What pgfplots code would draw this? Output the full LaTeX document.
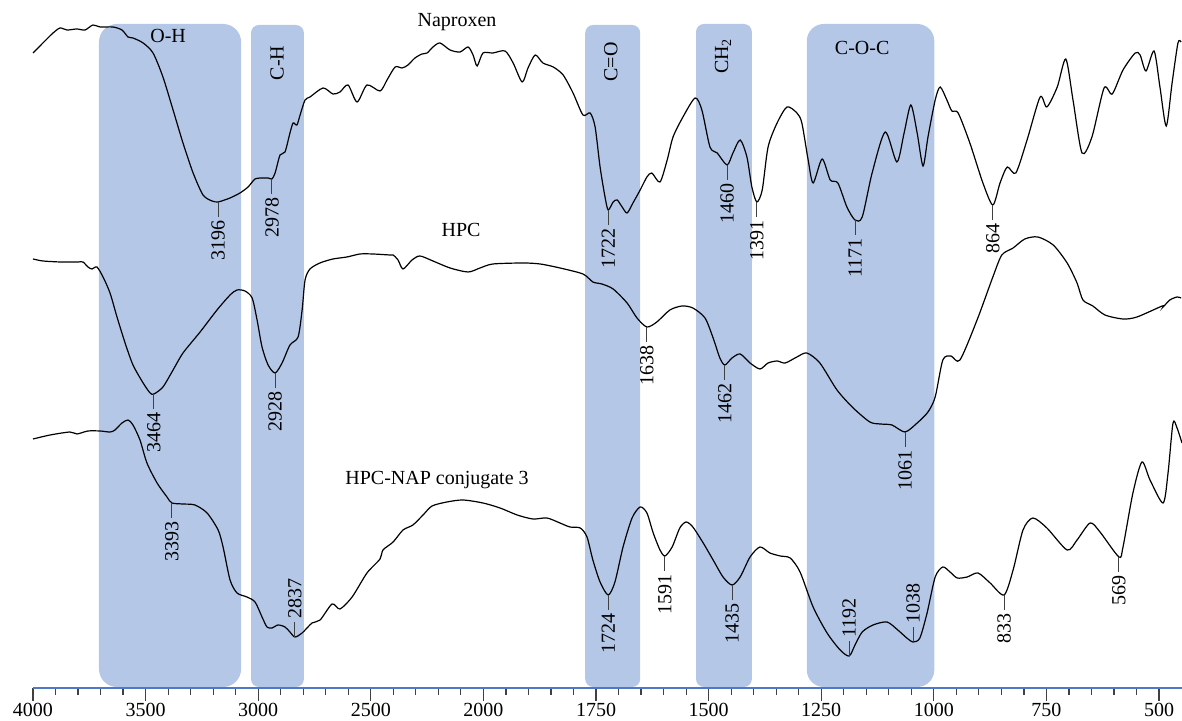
\documentclass[border=0pt]{standalone}
\usepackage{fontspec}
\setmainfont{Liberation Serif}
\usepackage{pgfplots}
\pgfplotsset{compat=1.18}
\definecolor{band}{HTML}{B4C7E7}
\definecolor{axisblue}{HTML}{5078C6}
\definecolor{tk}{HTML}{404040}

% peak marker: short stem below (\pkd) or above (\pku) the point, rotated label
\newcommand{\pkd}[3]{\draw[tk,line width=0.5pt] (axis cs:#1,#2) -- ++(0pt,-7.5pt) node[rotate=90,anchor=east,inner sep=1.5pt,text=black]{#3};}
\newcommand{\pku}[3]{\draw[tk,line width=0.5pt] (axis cs:#1,#2) -- ++(0pt,7.5pt) node[rotate=90,anchor=west,inner sep=1.5pt,text=black]{#3};}

\begin{document}
\begin{tikzpicture}
\begin{axis}[
    scale only axis, width=574.5pt, height=344pt,
    clip=false,
    % split wavenumber scale: 500 cm-1 per major step above 2000, 250 below
    x coord trafo/.code={\pgfmathparse{(#1>=2000) ? ((4000-#1)/500) : (4+(2000-#1)/250)}},
    xmin=4000, xmax=449, ymin=0, ymax=688,
    axis x line*=bottom, axis y line=none,
    x axis line style={axisblue, line width=0.9pt, -},
    xtick={4000,3500,3000,2500,2000,1750,1500,1250,1000,750,500},
    xticklabels={4000,3500,3000,2500,2000,1750,1500,1250,1000,750,500},
    minor xtick={3900,3800,3700,3600,3400,3300,3200,3100,2900,2800,2700,2600,2400,2300,2200,2100,
                 1950,1900,1850,1800,1700,1650,1600,1550,1450,1400,1350,1300,1200,1150,1100,1050,
                 950,900,850,800,700,650,600,550},
    tick align=outside,
    major tick length=6.5pt, minor tick length=3.5pt,
    every tick/.style={tk, line width=0.6pt},
    xticklabel style={font=\fontsize{10}{12}\selectfont, inner sep=1pt},
    ytick=\empty,
]
% assignment bands
\fill[band, rounded corners=9pt] (axis cs:3707,1) rectangle (axis cs:3076,664);
\fill[band, rounded corners=4pt] (axis cs:3032,1) rectangle (axis cs:2797,663);
\fill[band, rounded corners=4pt] (axis cs:1774,1) rectangle (axis cs:1652,663);
\fill[band, rounded corners=4pt] (axis cs:1528,1) rectangle (axis cs:1404,664);
\fill[band, rounded corners=8.5pt] (axis cs:1282,1) rectangle (axis cs:999,664);

% Naproxen
\addplot[black, line width=0.6pt, smooth, tension=0.45] coordinates {
(4000,635) (3956,645) (3911,655) (3880,660) (3849,658) (3805,659) (3769,658)
(3734,663) (3702,661) (3645,661) (3605,658) (3578,651) (3556,650) (3511,645)
(3467,635) (3423,611) (3378,578) (3334,545) (3289,515) (3245,493) (3205,487)
(3178,486) (3150,488) (3125,490) (3081,495) (3045,501) (3014,509) (2979,510)
(2955,510) (2939,509) (2925,515) (2903,533) (2881,536) (2859,555) (2845,565)
(2828,563) (2814,573) (2792,588) (2770,591) (2712,600) (2668,594) (2637,596)
(2601,603) (2561,586) (2517,603) (2459,597) (2428,608) (2392,621) (2361,620)
(2335,623) (2304,630) (2273,634) (2250,635) (2224,641) (2193,645) (2148,638)
(2104,636) (2068,641) (2046,633) (2028,622) (2002,635) (1979,635) (1952,637)
(1934,625) (1914,606) (1901,620) (1885,633) (1868,625) (1845,621) (1823,613)
(1801,595) (1779,573) (1763,575) (1752,561) (1741,521) (1730,491) (1723,478)
(1712,486) (1703,488) (1692,481) (1681,475) (1668,485) (1652,498) (1637,511)
(1626,515) (1608,506) (1592,528) (1579,551) (1557,571) (1530,590) (1515,578)
(1497,541) (1481,535) (1459,523) (1446,535) (1430,548) (1415,531) (1404,501)
(1393,486) (1381,498) (1368,541) (1348,565) (1326,581) (1304,575) (1293,565)
(1279,528) (1268,505) (1248,529) (1230,508) (1213,505) (1193,481) (1175,468)
(1159,471) (1137,515) (1108,556) (1082,526) (1066,555) (1051,583) (1037,555)
(1024,522) (1013,551) (997,588) (986,601) (971,588) (960,577) (946,575)
(920,545) (891,505) (869,483) (853,505) (837,521) (818,515) (793,548)
(764,591) (749,581) (726,601) (707,629) (691,588) (671,535) (649,551)
(622,600) (604,594) (580,618) (553,635) (542,633) (529,617) (511,637)
(498,601) (484,562) (471,605) (458,645) (451,646)
};

% HPC
\addplot[black, line width=0.6pt, smooth, tension=0.45] coordinates {
(4000,429) (3956,427) (3880,426) (3849,426) (3827,426) (3800,426) (3778,426)
(3756,421) (3738,419) (3716,421) (3689,411) (3658,395) (3627,371) (3591,345)
(3556,323) (3511,305) (3480,295) (3463,294) (3423,301) (3378,318) (3334,335)
(3258,356) (3183,378) (3125,393) (3094,398) (3059,397) (3027,390) (3005,368)
(2983,341) (2956,323) (2925,315) (2894,325) (2859,343) (2823,351) (2805,378)
(2792,408) (2770,419) (2726,425) (2668,429) (2606,431) (2548,434) (2490,434)
(2415,433) (2401,433) (2379,428) (2357,419) (2317,428) (2282,432) (2224,427)
(2148,420) (2068,416) (2015,420) (1979,424) (1912,425) (1874,424) (1830,420)
(1779,414) (1757,406) (1737,404) (1712,399) (1681,385) (1659,370) (1637,361)
(1615,366) (1586,378) (1559,382) (1535,380) (1508,370) (1490,350) (1475,330)
(1464,323) (1448,330) (1430,334) (1408,325) (1386,319) (1368,325) (1348,327)
(1330,325) (1304,331) (1282,335) (1253,325) (1215,298) (1179,280) (1142,266)
(1119,264) (1093,263) (1064,256) (1037,265) (1013,276) (997,291) (980,328)
(962,332) (942,328) (904,368) (869,411) (849,433) (824,440) (798,449)
(769,451) (735,443) (704,425) (682,405) (669,388) (647,382) (620,373)
(580,369) (549,371) (493,382) (491,381) (476,388) (460,391) (451,390)
};

% HPC-NAP conjugate 3
\addplot[black, line width=0.6pt, smooth, tension=0.45] coordinates {
(4000,249) (3924,253) (3836,256) (3805,254) (3756,257) (3702,257) (3658,256)
(3636,258) (3605,265) (3578,268) (3556,263) (3525,248) (3494,225) (3449,205)
(3405,191) (3383,185) (3334,184) (3281,183) (3227,175) (3178,158) (3156,141)
(3125,108) (3094,95) (3050,91) (3014,86) (2983,71) (2961,61) (2939,60)
(2912,63) (2881,61) (2859,56) (2837,51) (2805,55) (2761,65) (2725,68)
(2672,84) (2637,79) (2583,91) (2517,115) (2459,129) (2446,138) (2401,146)
(2357,158) (2313,163) (2268,173) (2228,182) (2162,186) (2091,188) (2002,185)
(1963,180) (1925,173) (1890,169) (1859,170) (1830,165) (1808,161) (1785,160)
(1770,151) (1757,128) (1741,106) (1723,93) (1708,106) (1690,141) (1670,170)
(1652,181) (1637,175) (1623,155) (1608,138) (1597,132) (1581,141) (1564,160)
(1550,166) (1535,161) (1512,145) (1490,128) (1468,111) (1448,103) (1430,111)
(1408,131) (1386,141) (1364,135) (1341,132) (1319,130) (1297,116) (1268,81)
(1237,55) (1208,38) (1188,32) (1175,43) (1159,56) (1135,63) (1104,66)
(1080,58) (1060,50) (1046,46) (1031,50) (1015,75) (997,111) (980,121)
(964,116) (948,110) (926,111) (902,115) (875,105) (844,93) (824,118)
(802,158) (780,170) (749,160) (704,138) (682,148) (653,165) (631,156)
(589,131) (580,141) (558,195) (538,226) (520,208) (491,185) (480,215)
(469,265) (460,260) (449,245)
};

% band and curve titles
\node[font=\fontsize{10}{12}\selectfont] at (axis cs:3400,652) {O-H};
\node[font=\fontsize{10}{12}\selectfont, rotate=90] at (axis cs:2916,625) {C-H};
\node[font=\fontsize{10}{12}\selectfont, rotate=90] at (axis cs:1717,626) {C=O};
\node[font=\fontsize{10}{12}\selectfont, rotate=90] at (axis cs:1468,632) {CH\textsubscript{2}};
\node[font=\fontsize{10}{12}\selectfont] at (axis cs:1159,640) {C-O-C};
\node[font=\fontsize{10}{12}\selectfont] at (axis cs:2117,666) {Naproxen};
\node[font=\fontsize{10}{12}\selectfont] at (axis cs:2099,458) {HPC};
\node[font=\fontsize{10}{12}\selectfont] at (axis cs:2206,208) {HPC-NAP conjugate 3};

% peak labels
\pkd{3178}{486}{3196}
\pkd{2939}{509}{2978}
\pkd{1723}{478}{1722}
\pkd{1459}{523}{1460}
\pkd{1393}{486}{1391}
\pkd{1175}{468}{1171}
\pkd{869}{483}{864}
\pkd{3463}{294}{3464}
\pkd{2925}{315}{2928}
\pkd{1637}{361}{1638}
\pkd{1464}{323}{1462}
\pkd{1064}{256}{1061}
\pkd{3383}{185}{3393}
\pku{2837}{51}{2837}
\pkd{1723}{93}{1724}
\pkd{1597}{132}{1591}
\pkd{1448}{103}{1435}
\pku{1188}{32}{1192}
\pku{1046}{46}{1038}
\pkd{844}{93}{833}
\pkd{589}{131}{569}
\end{axis}
\pgfresetboundingbox
\path[use as bounding box] (-16.5pt,-16.5pt) rectangle (574.5pt,344pt);
\end{tikzpicture}
\end{document}
